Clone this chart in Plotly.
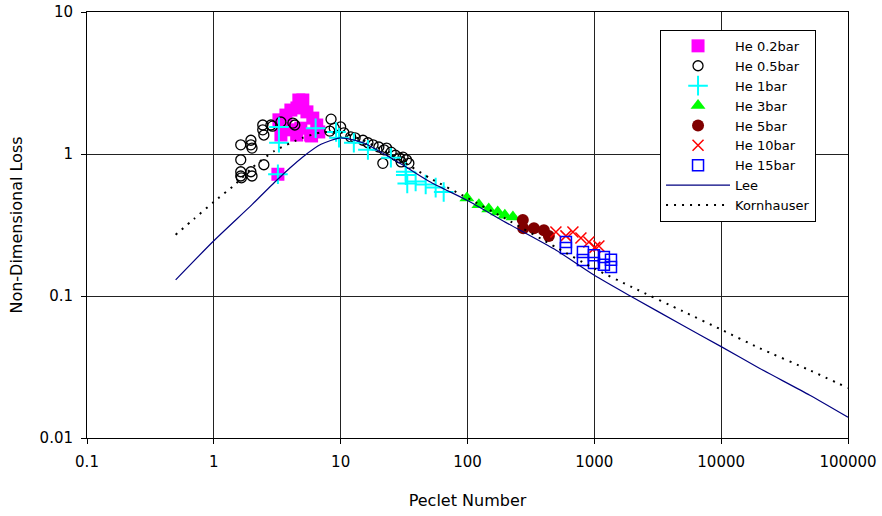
import plotly.graph_objects as go

# Measured loss data, grouped by helium charge pressure
pe_02 = [3.26, 3.70, 4.05, 4.68, 5.03, 4.52, 5.42, 6.03, 6.48, 6.72, 4.85, 4.05, 3.63, 5.80, 3.38, 4.5, 5.9, 3.2]
loss_02 = [1.74, 1.88, 2.04, 2.40, 2.40, 2.11, 1.98, 1.79, 1.60, 1.43, 1.52, 1.48, 1.52, 1.36, 1.36, 1.36, 1.34, 0.72]

pe_05 = [1.63, 1.63, 1.63, 1.63, 1.65, 1.96, 1.96, 2.0, 1.96, 2.0, 2.43, 2.43, 2.48, 2.48,
         2.82, 2.9, 3.38, 4.2, 4.35, 8.4, 8.2, 8.9, 10.0, 10.6, 12.0, 13.0, 15.0, 16.4,
         18.0, 20.0, 22.0, 23.0, 25.0, 21.5, 27.0, 29.0, 31.0, 33.0, 34.5, 30.0]
loss_05 = [1.16, 0.91, 0.75, 0.70, 0.68, 1.25, 1.16, 1.10, 0.75, 0.70, 1.60, 1.48, 1.36, 0.84,
           1.60, 1.57, 1.68, 1.65, 1.60, 1.76, 1.45, 1.52, 1.55, 1.41, 1.32, 1.30, 1.25, 1.20,
           1.16, 1.12, 1.07, 1.10, 1.03, 0.86, 0.98, 0.94, 0.95, 0.91, 0.86, 0.88]

pe_1 = [3.26, 3.26, 3.2, 6.35, 9.2, 9.7, 12.7, 16.4, 24.9, 32.6, 32.6, 33.5, 39.0, 46.8, 56.1, 64.9]
loss_1 = [1.55, 1.20, 0.72, 1.52, 1.43, 1.30, 1.20, 1.07, 0.94, 0.75, 0.71, 0.62, 0.64, 0.61, 0.58, 0.54]

pe_3 = [98.9, 123, 147, 173, 197, 228]
loss_3 = [0.49, 0.44, 0.41, 0.39, 0.37, 0.36]

pe_5 = [273, 275, 334, 400, 438]
loss_5 = [0.343, 0.30, 0.30, 0.29, 0.265]

pe_10 = [498, 597, 678, 784, 906, 1010, 1086]
loss_10 = [0.282, 0.265, 0.282, 0.256, 0.24, 0.22, 0.225]

pe_15 = [597, 597, 813, 813, 993, 993, 1190, 1353, 1353, 1190]
loss_15 = [0.24, 0.218, 0.204, 0.179, 0.194, 0.171, 0.188, 0.18, 0.16, 0.166]

# Correlations
pe_lee = [0.5, 1, 2, 3, 4, 5, 7, 10, 15, 20, 30, 50, 100, 200, 500, 1000, 2000, 5000,
          10000, 20000, 50000, 100000]
loss_lee = [0.13, 0.245, 0.44, 0.63, 0.8, 0.95, 1.17, 1.3, 1.2, 1.05, 0.85, 0.64, 0.47, 0.33,
            0.21, 0.14, 0.098, 0.062, 0.044, 0.031, 0.02, 0.014]

pe_korn = [0.5, 0.7, 1, 1.5, 2, 3, 5, 7, 10, 15, 20, 30, 50, 100, 200, 500, 1000, 2000,
           5000, 10000, 20000, 50000, 100000]
loss_korn = [0.27, 0.35, 0.46, 0.62, 0.8, 1.05, 1.3, 1.42, 1.42, 1.25, 1.1, 0.9, 0.68, 0.49,
             0.35, 0.22, 0.156, 0.115, 0.078, 0.058, 0.043, 0.03, 0.0225]

x_ticks = [0.1, 1, 10, 100, 1000, 10000, 100000]
x_tick_text = ["0.1", "1", "10", "100", "1000", "10000", "100000"]
y_ticks = [0.01, 0.1, 1, 10]
y_tick_text = ["0.01", "0.1", "1", "10"]

FONT = "DejaVu Sans, Verdana, sans-serif"

fig = go.Figure()

fig.add_trace(go.Scatter(x=pe_02, y=loss_02, mode="markers", name="He 0.2bar",
                         marker=dict(symbol="square", size=13, color="#FF00FF", line=dict(width=0))))
fig.add_trace(go.Scatter(x=pe_05, y=loss_05, mode="markers", name="He 0.5bar",
                         marker=dict(symbol="circle-open", size=10, color="black", line=dict(width=1.3))))
fig.add_trace(go.Scatter(x=pe_1, y=loss_1, mode="markers", name="He 1bar",
                         marker=dict(symbol="cross-thin-open", size=14, color="#00FFFF", line=dict(width=2, color="#00FFFF"))))
fig.add_trace(go.Scatter(x=pe_3, y=loss_3, mode="markers", name="He 3bar",
                         marker=dict(symbol="triangle-up", size=13, color="#00FF00", line=dict(width=0))))
fig.add_trace(go.Scatter(x=pe_5, y=loss_5, mode="markers", name="He 5bar",
                         marker=dict(symbol="circle", size=12, color="#800000", line=dict(width=0))))
fig.add_trace(go.Scatter(x=pe_10, y=loss_10, mode="markers", name="He 10bar",
                         marker=dict(symbol="x-thin-open", size=11, color="#FF0000", line=dict(width=1.5, color="#FF0000"))))
fig.add_trace(go.Scatter(x=pe_15, y=loss_15, mode="markers", name="He 15bar",
                         marker=dict(symbol="square-open", size=11, color="#0000FF", line=dict(width=1.5))))
fig.add_trace(go.Scatter(x=pe_lee, y=loss_lee, mode="lines", name="Lee",
                         line=dict(color="#000080", width=1.2, shape="spline", smoothing=0.6)))
fig.add_trace(go.Scatter(x=pe_korn, y=loss_korn, mode="lines", name="Kornhauser",
                         line=dict(color="black", width=2, dash="2px,6px", shape="spline", smoothing=0.6)))

axis_common = dict(
    type="log",
    automargin=False,
    showline=True, linecolor="black", linewidth=1, mirror=True,
    showgrid=True, gridcolor="#222222", gridwidth=1,
    ticks="outside", ticklen=5, tickcolor="black",
    ticklabelstandoff=5,
    zeroline=False,
    tickfont=dict(family=FONT, size=15, color="black"),
)

fig.update_layout(
    width=882, height=516,
    margin=dict(l=87, r=34, t=12, b=78),
    paper_bgcolor="white", plot_bgcolor="white",
    font=dict(family=FONT, size=13, color="black"),
    xaxis=dict(axis_common, range=[-1, 5], tickvals=x_ticks, ticktext=x_tick_text,
               title=dict(text="Peclet Number", font=dict(size=16), standoff=24)),
    yaxis=dict(axis_common, range=[-2, 1], tickvals=y_ticks, ticktext=y_tick_text,
               title=dict(text="Non-Dimensional Loss", font=dict(size=16), standoff=12)),
    legend=dict(x=0.753, y=0.958, xanchor="left", yanchor="top",
                bgcolor="white", bordercolor="black", borderwidth=1,
                font=dict(size=13), itemwidth=64, tracegroupgap=0),
    showlegend=True,
)

fig.write_html("out.html")
